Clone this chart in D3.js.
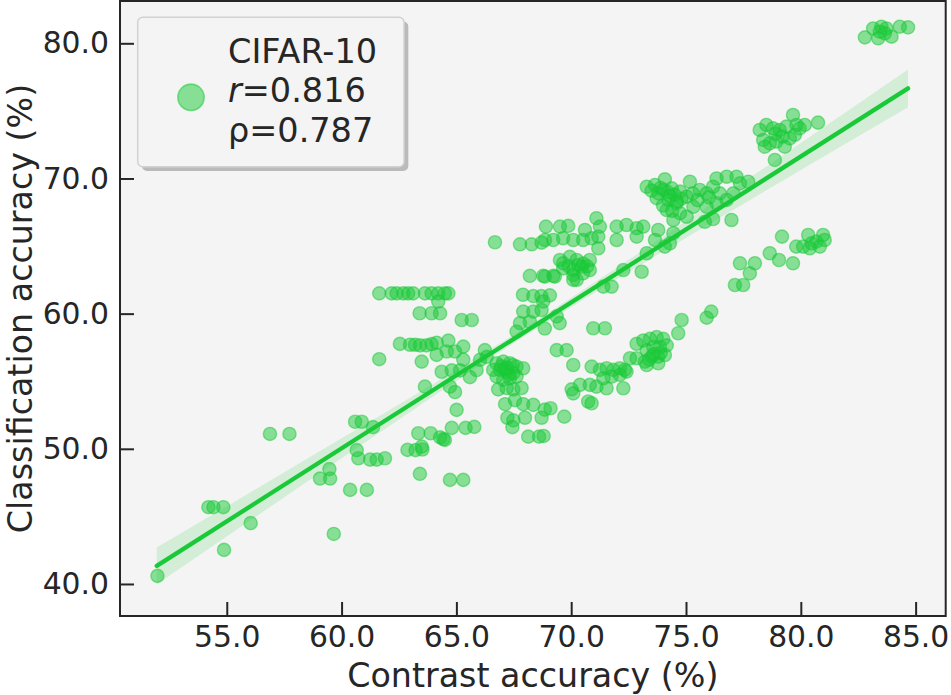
<!DOCTYPE html>
<html lang="en">
<head>
<meta charset="UTF-8">
<title>CIFAR-10 contrast vs classification accuracy</title>
<script src="https://d3js.org/d3.v7.min.js"></script>
<style>
    body { margin: 0; background: #ffffff; }
    text { font-family: "DejaVu Sans", sans-serif; fill: #262626; }
    .tick text { font-size: 29.8px; }
    .axis-label { font-size: 33.3px; }
    .legend_text { font-size: 33.5px; }
</style>
</head>
<body>
<svg id="chart"></svg>
<script>
    // points, grouped by region: [contrast acc, classification acc]
    const lowerLeft = [
        [51.98, 40.6], [54.88, 42.52], [56.04, 44.5], [54.2, 45.68], [54.42, 45.68], [54.85, 45.68],
        [56.88, 51.1], [57.73, 51.1], [59.66, 43.7], [59.06, 47.8], [59.5, 47.8], [59.47, 48.5],
        [60.37, 46.96], [61.1, 46.96], [60.59, 52.0], [60.88, 52.0], [60.66, 49.9], [60.73, 49.3],
        [61.24, 49.2], [61.53, 49.2], [61.37, 51.6], [61.89, 49.3]
    ];
    const midLow = [
        [62.87, 49.92], [63.22, 49.9], [63.52, 49.95], [63.49, 50.16], [63.34, 51.15], [63.88, 51.15],
        [64.29, 50.85], [64.43, 50.72], [64.5, 50.66], [64.8, 51.55], [65.4, 51.55], [65.78, 51.62],
        [63.41, 48.15], [64.72, 47.7], [65.3, 47.7], [65.01, 52.88],
        [67.12, 53.3], [67.55, 53.6], [67.91, 53.3], [68.35, 53.25], [68.85, 52.9], [69.1, 53.0],
        [67.22, 52.3], [67.48, 52.1], [67.99, 52.3], [68.71, 52.3], [69.7, 52.38], [67.44, 51.6],
        [68.13, 50.9], [68.6, 50.9], [68.8, 50.95]
    ];
    const middle = [
        [61.64, 61.5], [62.18, 61.5], [62.4, 61.5], [62.69, 61.5], [62.9, 61.5], [63.12, 61.5],
        [63.63, 61.5], [63.92, 61.5], [64.21, 61.5], [64.5, 61.5], [64.65, 61.5], [64.21, 60.9],
        [63.4, 60.03], [63.92, 60.03], [64.29, 60.03], [65.23, 59.53], [65.67, 59.53],
        [62.54, 57.76], [62.98, 57.7], [63.2, 57.7], [63.42, 57.65], [63.7, 57.65], [63.92, 57.75],
        [64.14, 57.85], [64.65, 58.0], [65.3, 57.56], [64.14, 56.95], [64.58, 57.2], [64.94, 57.2],
        [61.64, 56.63], [63.49, 56.45], [64.36, 55.7], [65.3, 56.6], [64.8, 55.8], [65.16, 55.8],
        [63.63, 54.6], [64.72, 54.6], [64.94, 54.2],
        [66.24, 57.3], [66.32, 56.8], [66.03, 56.58], [65.88, 55.83], [65.59, 55.3],
        [66.75, 56.33], [67.04, 56.45], [67.33, 56.33], [67.62, 56.08], [66.9, 55.84], [67.19, 55.71],
        [67.48, 55.6], [66.75, 55.34], [67.04, 55.1], [67.33, 55.22], [67.62, 55.34], [66.6, 55.84],
        [67.91, 55.96], [66.82, 54.4], [67.19, 54.5], [67.48, 54.4], [67.84, 54.5],
        [67.1, 55.9], [67.3, 55.5], [66.95, 56.1], [67.45, 56.2], [67.2, 56.0]
    ];
    const midUpper = [
        [68.2, 62.8], [68.78, 62.8], [69.22, 62.8], [70.09, 62.87], [70.09, 62.5], [67.9, 61.4],
        [68.35, 61.3], [68.7, 61.3], [69.07, 61.35], [68.78, 60.9], [67.91, 60.15], [68.35, 60.15],
        [68.71, 60.27], [67.77, 59.3], [68.2, 59.4], [69.37, 59.8], [69.5, 59.3], [68.85, 58.9],
        [67.62, 58.67], [69.37, 57.3], [69.8, 57.3], [70.09, 56.2], [70.02, 54.4], [70.09, 54.1],
        [68.9, 66.44], [69.51, 66.44], [69.87, 66.49], [68.86, 65.45], [69.22, 65.45], [69.65, 65.58],
        [70.09, 65.45], [70.52, 65.45], [70.89, 65.58], [71.18, 65.7], [70.6, 66.19], [71.1, 67.06],
        [71.25, 66.44], [71.18, 64.84], [69.51, 63.97], [69.94, 64.2], [70.24, 63.97], [70.52, 63.7],
        [70.81, 63.97], [69.65, 63.35], [70.09, 63.23], [70.45, 63.47], [70.81, 63.23], [70.52, 62.98],
        [70.24, 62.5], [68.86, 62.74], [69.29, 62.74],
        [66.68, 65.28], [67.77, 65.13], [68.28, 65.13], [68.71, 65.25], [69.65, 63.73],
        [70.3, 63.6], [69.9, 63.5], [70.7, 63.5]
    ];
    const rightMid = [
        [71.98, 66.44], [72.41, 66.56], [72.85, 66.32], [73.14, 66.44], [71.98, 65.45], [72.85, 65.7],
        [72.27, 63.23], [73.07, 63.1], [71.4, 62.0], [71.76, 62.0], [73.29, 64.47], [73.79, 66.19],
        [73.65, 65.45], [74.3, 65.2], [74.45, 65.95], [74.08, 64.96],
        [73.29, 69.39], [73.65, 69.52], [74.08, 69.94], [74.01, 69.15], [74.38, 69.27], [74.74, 69.03],
        [75.03, 68.66], [73.72, 68.54], [74.23, 68.41], [74.59, 68.17], [74.16, 67.67], [74.74, 67.43],
        [75.17, 69.76], [75.32, 67.9], [75.03, 67.17], [74.45, 66.93],
        [73.9, 69.3], [74.2, 69.0], [74.5, 68.8], [73.5, 69.1], [74.8, 68.5], [74.0, 68.0], [74.4, 67.6],
        [73.8, 68.9], [74.3, 68.7], [74.6, 68.3],
        [75.6, 69.15], [75.9, 68.9], [76.18, 69.39], [76.33, 70.0], [76.77, 70.13], [77.2, 70.13],
        [77.35, 69.64], [77.71, 69.76], [76.47, 68.9], [75.9, 67.9], [76.33, 68.17], [76.77, 68.41],
        [76.18, 67.0], [75.82, 66.8], [77.06, 68.9], [76.98, 66.93], [75.5, 68.4], [76.0, 68.6], [75.3, 68.9]
    ];
    const lowerRight = [
        [78.87, 71.37], [78.65, 64.47], [79.05, 63.97], [79.18, 65.7], [77.35, 63.73], [78.0, 63.73],
        [77.78, 62.98], [77.13, 62.12], [77.49, 62.12], [79.66, 63.73], [79.8, 64.96], [80.1, 64.96],
        [80.32, 65.82], [80.47, 65.2], [80.68, 65.33], [80.97, 65.82], [81.04, 65.45], [80.83, 64.96],
        [80.39, 64.84]
    ];
    const lowCluster = [
        [70.96, 58.92], [71.47, 58.92], [74.81, 59.53], [75.9, 59.7], [76.1, 60.15], [74.66, 58.55],
        [72.85, 57.77], [73.14, 58.01], [73.43, 58.13], [73.72, 58.26], [74.01, 58.13], [73.29, 57.28],
        [73.58, 57.53], [73.87, 57.53], [74.16, 57.65], [72.56, 56.7], [72.85, 56.7], [73.21, 56.45],
        [73.5, 56.82], [73.79, 56.82], [74.08, 56.94], [73.29, 56.2], [73.79, 56.33],
        [73.6, 57.0], [73.9, 57.1], [73.4, 56.6],
        [70.89, 56.08], [71.25, 55.84], [71.54, 55.96], [71.83, 55.84], [72.12, 55.96], [72.41, 55.71],
        [71.4, 55.22], [71.76, 55.34], [72.12, 55.47], [72.34, 55.84], [70.38, 54.73], [70.81, 54.73],
        [71.1, 54.6], [71.54, 54.48], [72.27, 54.48], [70.74, 53.5], [70.89, 53.37]
    ];
    const upperRight = [
        [82.79, 80.44], [83.15, 81.1], [83.37, 80.37], [83.51, 81.23], [83.73, 81.1], [83.95, 80.49],
        [83.66, 80.74], [84.31, 81.23], [84.67, 81.18], [83.44, 80.86],
        [78.21, 73.59], [78.5, 73.96], [78.79, 73.71], [79.08, 73.59], [79.37, 73.84], [79.66, 74.7],
        [79.81, 73.96], [79.95, 73.71], [80.17, 73.96], [80.75, 74.13], [78.36, 72.85], [78.65, 72.6],
        [78.94, 72.73], [79.3, 72.35], [79.52, 72.97], [79.74, 73.22], [78.43, 72.35],
        [78.9, 73.3], [79.2, 73.1]
    ];

    // regression line ends and confidence band half-widths
    const fitX = [51.95, 84.67];
    const fitY = [41.34, 76.67];
    const bandX = [51.95, 56, 60, 64, 68.3, 72, 76, 80, 84.67];
    const bandHalf = [1.36, 1.04, 0.74, 0.46, 0.3, 0.42, 0.69, 1.0, 1.4];

    const xTicks = [55, 60, 65, 70, 75, 80, 85];
    const yTicks = [40, 50, 60, 70, 80];
    const xLim = [50.35, 86.31];
    const yLim = [37.63, 83.13];
    const legendLines = ["CIFAR-10", "=0.816", "ρ=0.787"];

    const width = 951, height = 695;
    const margin = {top: 1, right: 5.3, bottom: 79, left: 120};
    const green = "#1ac938";

    const points = [].concat(lowerLeft, midLow, middle, midUpper, rightMid, lowerRight, lowCluster, upperRight);

    const svg = d3.select("#chart")
        .attr("width", width)
        .attr("height", height);

    const x = d3.scaleLinear().domain(xLim).range([margin.left, width - margin.right]);
    const y = d3.scaleLinear().domain(yLim).range([height - margin.bottom, margin.top]);

    // axes background
    svg.append("rect")
        .attr("x", margin.left).attr("y", margin.top)
        .attr("width", width - margin.right - margin.left)
        .attr("height", height - margin.bottom - margin.top)
        .attr("fill", "#f4f4f4");

    // scatter
    svg.append("g")
        .selectAll("circle")
        .data(points)
        .enter()
        .append("circle")
        .attr("cx", d => x(d[0]))
        .attr("cy", d => y(d[1]))
        .attr("r", 6.6)
        .attr("fill", green)
        .attr("fill-opacity", 0.5)
        .attr("stroke", green)
        .attr("stroke-opacity", 0.5)
        .attr("stroke-width", 1.4);

    // confidence band and fit line
    const fit = d3.scaleLinear().domain(fitX).range(fitY);
    const band = bandX.map((v, i) => ({x: v, lo: fit(v) - bandHalf[i], hi: fit(v) + bandHalf[i]}));

    svg.append("path")
        .datum(band)
        .attr("d", d3.area()
            .x(d => x(d.x))
            .y0(d => y(d.lo))
            .y1(d => y(d.hi))
            .curve(d3.curveMonotoneX))
        .attr("fill", green)
        .attr("fill-opacity", 0.15);

    svg.append("line")
        .attr("x1", x(fitX[0])).attr("y1", y(fitY[0]))
        .attr("x2", x(fitX[1])).attr("y2", y(fitY[1]))
        .attr("stroke", green)
        .attr("stroke-width", 4.3)
        .attr("stroke-linecap", "round");

    // axes with inward ticks
    const fmt = d3.format(".1f");
    const xAxis = svg.append("g")
        .attr("transform", `translate(0,${height - margin.bottom})`)
        .call(d3.axisBottom(x).tickValues(xTicks).tickFormat(fmt).tickSizeInner(-14).tickSizeOuter(0).tickPadding(9.5));
    const yAxis = svg.append("g")
        .attr("transform", `translate(${margin.left},0)`)
        .call(d3.axisLeft(y).tickValues(yTicks).tickFormat(fmt).tickSizeInner(-14).tickSizeOuter(0).tickPadding(11));

    [xAxis, yAxis].forEach(a => {
        a.select(".domain").remove();
        a.attr("font-family", null).attr("font-size", null);
        a.selectAll(".tick line").attr("stroke", "#262626").attr("stroke-width", 2);
        a.selectAll(".tick text").attr("fill", "#262626");
    });

    // spines
    svg.append("rect")
        .attr("x", margin.left).attr("y", margin.top)
        .attr("width", width - margin.right - margin.left)
        .attr("height", height - margin.bottom - margin.top)
        .attr("fill", "none")
        .attr("stroke", "#262626")
        .attr("stroke-width", 2);

    // axis labels
    svg.append("text")
        .attr("class", "axis-label")
        .attr("x", (margin.left + width - margin.right) / 2)
        .attr("y", 687)
        .attr("text-anchor", "middle")
        .text("Contrast accuracy (%)");

    svg.append("text")
        .attr("class", "axis-label")
        .attr("transform", `translate(32,${(margin.top + height - margin.bottom) / 2}) rotate(-90)`)
        .attr("text-anchor", "middle")
        .text("Classification accuracy (%)");

    // legend
    const lg = svg.append("g");
    lg.append("rect")
        .attr("x", 142).attr("y", 21.5)
        .attr("width", 266.3).attr("height", 149.4)
        .attr("rx", 5)
        .attr("fill", "#8a8a8a")
        .attr("fill-opacity", 0.55);
    lg.append("rect")
        .attr("x", 137.7).attr("y", 17.3)
        .attr("width", 266.3).attr("height", 149.4)
        .attr("rx", 5)
        .attr("fill", "#f4f4f4")
        .attr("stroke", "#d2d2d2")
        .attr("stroke-width", 1.5);
    lg.append("circle")
        .attr("cx", 191).attr("cy", 97.3).attr("r", 13.2)
        .attr("fill", green).attr("fill-opacity", 0.5)
        .attr("stroke", green).attr("stroke-opacity", 0.5)
        .attr("stroke-width", 1.6);

    const baselines = [62.7, 101.7, 141.7];
    legendLines.forEach((s, i) => {
        const t = lg.append("text")
            .attr("class", "legend_text")
            .attr("x", 228)
            .attr("y", baselines[i]);
        if (i === 1) {
            t.append("tspan").attr("font-style", "italic").text("r");
        }
        t.append("tspan").text(s);
    });
</script>
</body>
</html>
